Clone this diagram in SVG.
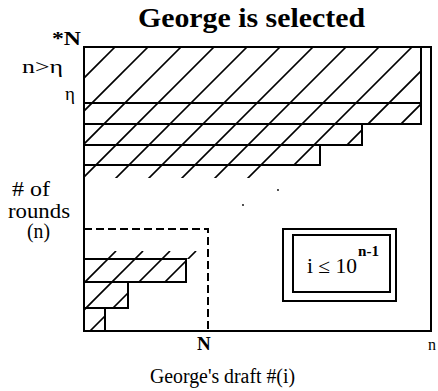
<svg xmlns="http://www.w3.org/2000/svg" width="438" height="391" viewBox="0 0 438 391">
<style>
.ln{fill:none;stroke:#000;stroke-width:2}
.ht{stroke:#000;stroke-width:1.7;fill:none}
.dash{fill:none;stroke:#000;stroke-width:2;stroke-dasharray:8,4}
.t{font-family:"Liberation Serif","Times New Roman",serif;fill:#000}
.b{font-weight:bold}
</style>
<defs>
<clipPath id="cTop"><path d="M84,47 H421 V124 H362 V145 H320 V165 H262 V178 H84 Z"/></clipPath>
<clipPath id="cSmall"><path d="M84,251 H200 V259 H186 V282 H128 V308 H105 V331 H84 Z"/></clipPath>
</defs>
<rect width="438" height="391" fill="#fff"/>

<g id="title"><text class="t b" x="138" y="27" font-size="28" textLength="227" lengthAdjust="spacingAndGlyphs">George is selected</text></g>

<g id="frame"><rect class="ln" x="84" y="47" width="347" height="284"/></g>

<g id="top-block">
<g class="ht" clip-path="url(#cTop)">
<line x1="115" y1="47" x2="-28" y2="190"/>
<line x1="148" y1="47" x2="5" y2="190"/>
<line x1="181" y1="47" x2="38" y2="190"/>
<line x1="214" y1="47" x2="71" y2="190"/>
<line x1="247" y1="47" x2="104" y2="190"/>
<line x1="280" y1="47" x2="137" y2="190"/>
<line x1="313" y1="47" x2="170" y2="190"/>
<line x1="346" y1="47" x2="203" y2="190"/>
<line x1="379" y1="47" x2="236" y2="190"/>
<line x1="412" y1="47" x2="269" y2="190"/>
<line x1="445" y1="47" x2="302" y2="190"/>
<line x1="478" y1="47" x2="335" y2="190"/>
</g>
<rect class="ln" x="84" y="47" width="337" height="77"/>
<line class="ln" x1="84" y1="103" x2="421" y2="103"/>
<rect class="ln" x="84" y="124" width="278" height="21"/>
<rect class="ln" x="84" y="145" width="236" height="20"/>
</g>

<g id="small-bars">
<g class="ht" clip-path="url(#cSmall)">
<line x1="116" y1="251" x2="36" y2="331"/>
<line x1="143" y1="251" x2="63" y2="331"/>
<line x1="170" y1="251" x2="90" y2="331"/>
<line x1="196" y1="251" x2="116" y2="331"/>
</g>
<rect class="ln" x="84" y="259" width="102" height="23"/>
<rect class="ln" x="84" y="282" width="44" height="26"/>
<rect class="ln" x="84" y="308" width="21" height="23"/>
</g>

<g id="connectors">
<path class="dash" d="M84,229 H208 V331"/>
</g>

<g id="condition-box">
<rect class="ln" x="283" y="229" width="113" height="72"/>
<rect class="ln" x="293" y="235" width="97" height="57"/>
<text class="t" x="307" y="273" font-size="20" textLength="50" lengthAdjust="spacingAndGlyphs">i ≤ 10</text>
<text class="t b" x="358" y="256" font-size="14" textLength="21" lengthAdjust="spacingAndGlyphs">n-1</text>
</g>

<g id="labels">
<text class="t b" x="52" y="45" font-size="19" textLength="29" lengthAdjust="spacingAndGlyphs">*N</text>
<text class="t" x="22" y="73" font-size="18" textLength="41" lengthAdjust="spacingAndGlyphs">n&gt;η</text>
<text class="t" x="65" y="100" font-size="19">η</text>
<text class="t" x="12" y="196" font-size="20" textLength="38" lengthAdjust="spacingAndGlyphs"># of</text>
<text class="t" x="8" y="218" font-size="20" textLength="62" lengthAdjust="spacingAndGlyphs">rounds</text>
<text class="t" x="27" y="238" font-size="20" textLength="23" lengthAdjust="spacingAndGlyphs">(n)</text>
<text class="t b" x="197" y="350" font-size="19">N</text>
<text class="t" x="428" y="350" font-size="16">n</text>
<text class="t" x="150" y="383" font-size="20" textLength="145" lengthAdjust="spacingAndGlyphs">George's draft #(i)</text>
</g>

<g id="specks" fill="#000">
<circle cx="243" cy="205" r="0.9"/>
<circle cx="278" cy="190" r="0.9"/>
</g>
</svg>
